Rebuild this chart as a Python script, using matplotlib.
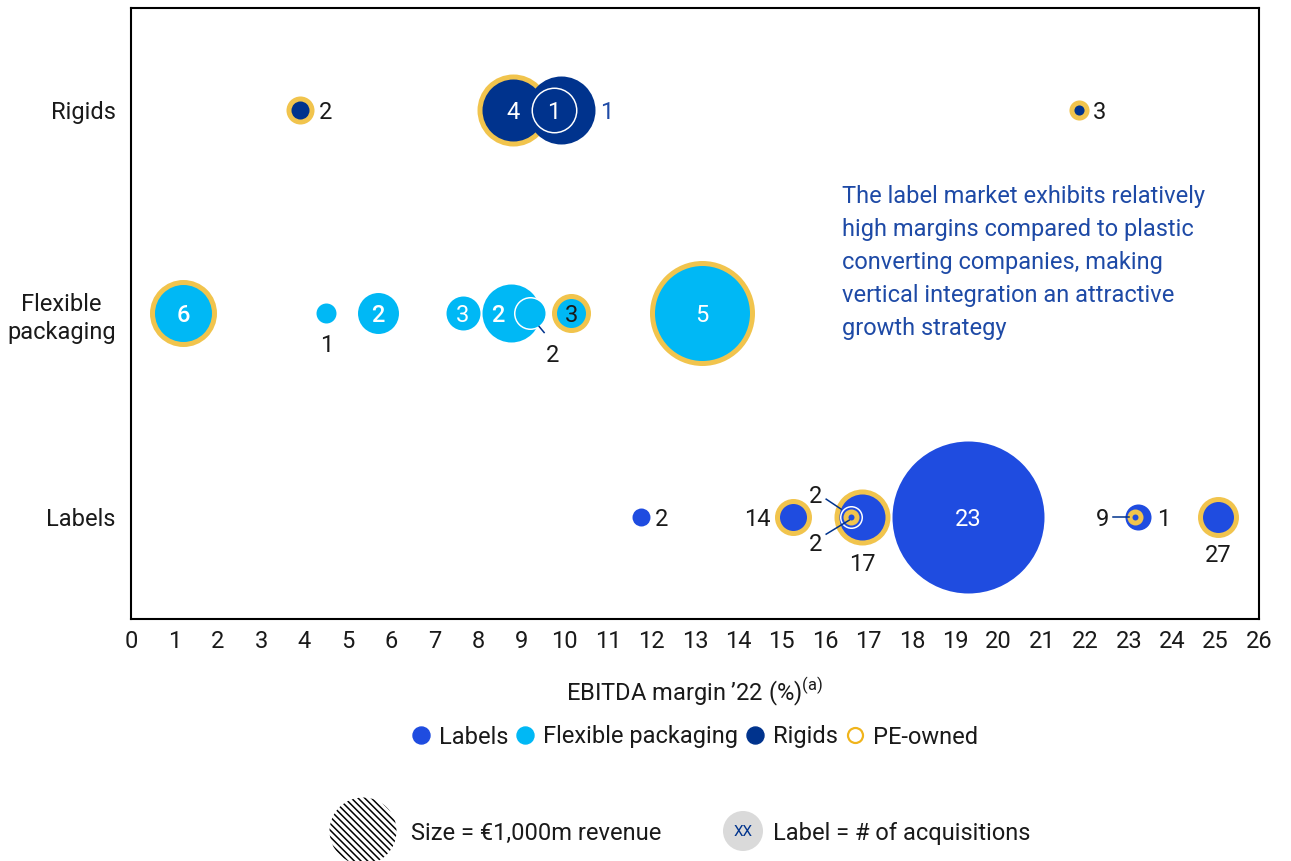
import numpy as np
import matplotlib.pyplot as plt
from matplotlib.lines import Line2D
from matplotlib.patches import Circle
from matplotlib.transforms import IdentityTransform

# ---------------------------------------------------------------------
# STYLE
# ---------------------------------------------------------------------
FS = 17
plt.rcParams.update({
    "font.family": ["Roboto", "DejaVu Sans"],
    "font.size": FS,
    "mathtext.fontset": "custom",
    "mathtext.rm": "Roboto",
    "hatch.linewidth": 1.1,
})

COLOR_LABELS = '#1F4CE0'
COLOR_FLEX = '#00B8F5'
COLOR_RIGIDS = '#00338D'
COLOR_PE = '#F1C44D'
COLOR_NOTE = '#1E4AA6'
TEXT_DARK = '#1a1a1a'

# ---------------------------------------------------------------------
# DATA  (bubbles listed in drawing order)
# ---------------------------------------------------------------------
SEGMENTS = ['Labels', 'Flexible\npackaging', 'Rigids']
SEG_COLORS = [COLOR_LABELS, COLOR_FLEX, COLOR_RIGIDS]

segment = [2, 2, 2, 2, 2,
           1, 1, 1, 1, 1, 1, 1, 1,
           0, 0, 0, 0, 0, 0, 0, 0, 0]
ebitda_margin = [3.9, 8.8, 9.9, 9.75, 21.85,
                 1.2, 4.5, 5.7, 7.65, 8.75, 9.2, 10.15, 13.15,
                 11.75, 15.25, 16.85, 16.6, 16.6, 19.3, 23.2, 23.15, 25.05]
revenue = [175, 1155, 1030, 471, 90,
           1000, 89, 374, 257, 749, 243, 339, 2456,
           72, 305, 699, 118, 57, 5147, 151, 57, 374]
acquisitions = ['2', '4', '1', '1', '3',
                '6', '1', '2', '3', '2', '2', '3', '5',
                '2', '14', '17', '2', '2', '23', '1', '9', '27']
pe_owned = [True, True, False, False, True,
            True, False, False, False, False, False, True, True,
            False, True, True, False, True, False, False, True, True]

# size reference: €1,000m revenue
REF_REVENUE = 1000
REF_RADIUS_PX = 33.5
RING_PX = 5
PX2PT = 72 / 100

# label placement (image px offsets from bubble centre, y down), colour, weight
W, D, N = 'white', TEXT_DARK, COLOR_NOTE
label_style = [
    (25, 0, D, 'normal'), (0, 0, W, 'normal'), (46, 0, N, 'normal'), (0, 0, W, 'normal'), (21, 0, D, 'normal'),
    (0, 0, W, 'medium'), (0, 29, D, 'normal'), (0, 0, W, 'medium'), (0, 0, W, 'normal'),
    (-13, 0, W, 'medium'), (22, 39, D, 'normal'), (0, 0, D, 'normal'), (0, 0, W, 'normal'),
    (21, 0, D, 'normal'), (-35, 0, D, 'normal'), (0, 45, D, 'normal'), (-36, -23, D, 'normal'),
    (-36, 25, D, 'normal'), (0, 0, W, 'normal'), (26, 0, D, 'normal'), (-33, 0, D, 'normal'),
    (0, 36, D, 'normal'),
]
outlined = {3, 10, 16}
leaders = [(10, (9, 13), (14, 19)),
           (16, (-25, -18), (-10, -8)),
           (17, (-25, 17), (-2, 3)),
           (20, (-22, 0), (-6, 0))]


def marker_area(radius_px):
    return (2 * radius_px * PX2PT) ** 2


# ---------------------------------------------------------------------
# PLOT
# ---------------------------------------------------------------------
fig = plt.figure(figsize=(12.91, 8.61), dpi=100)
ax = fig.add_axes([131 / 1291, 1 - 619 / 861, (1259 - 131) / 1291, (619 - 8) / 861])

ax.set_xlim(0, 26)
ax.set_ylim(-0.5, 2.5)

z = 2
for i in range(len(revenue)):
    x, y = ebitda_margin[i], segment[i]
    r = REF_RADIUS_PX * np.sqrt(revenue[i] / REF_REVENUE)
    col = SEG_COLORS[segment[i]]
    if pe_owned[i]:
        ax.scatter(x, y, s=marker_area(r), color=COLOR_PE, linewidths=0, zorder=z)
        ax.scatter(x, y, s=marker_area(r - RING_PX), color=col, linewidths=0, zorder=z + 0.1)
    elif i in outlined:
        ax.scatter(x, y, s=marker_area(r - 0.75), color=col, edgecolors='white',
                   linewidths=1.5 * PX2PT, zorder=z)
    else:
        ax.scatter(x, y, s=marker_area(r), color=col, linewidths=0, zorder=z)
    dx, dy, tcol, weight = label_style[i]
    ax.annotate(acquisitions[i], (x, y), xytext=(dx, -dy), textcoords='offset pixels',
                ha='center', va='center_baseline', color=tcol, fontsize=FS,
                fontweight=weight, zorder=z + 0.2)
    z += 1

# leader lines
for idx, a, b in leaders:
    cx, cy = ax.transData.transform((ebitda_margin[idx], segment[idx]))
    fig.add_artist(Line2D([cx + a[0], cx + b[0]], [cy - a[1], cy - b[1]],
                          transform=IdentityTransform(), color=COLOR_RIGIDS, lw=1.1, zorder=50))

# axes
ax.set_xticks(range(27))
ax.set_yticks(range(3))
ax.set_yticklabels(SEGMENTS, multialignment='center')
ax.get_yticklabels()[1].set_linespacing(1.3)
ax.tick_params(axis='both', length=0, labelcolor=TEXT_DARK, labelsize=FS)
ax.tick_params(axis='x', pad=8)
ax.tick_params(axis='y', pad=11)
for sp in ax.spines.values():
    sp.set_linewidth(1.5)
    sp.set_color('black')
ax.set_xlabel(r"EBITDA margin ’22 (%)$^{\rm (a)}$", fontsize=FS, labelpad=16, color=TEXT_DARK)

# note
ax.text(16.39, 1.25,
        "The label market exhibits relatively\nhigh margins compared to plastic\n"
        "converting companies, making\nvertical integration an attractive\ngrowth strategy",
        color=COLOR_NOTE, fontsize=FS, ha='left', va='center', linespacing=1.55)

# ---------------- LEGEND (segments) ----------------
handles = [Line2D([0], [0], marker='o', ls='', markersize=17 * PX2PT,
                  markerfacecolor=c, markeredgecolor=c, label=l.replace('\n', ' '))
           for c, l in zip(SEG_COLORS, SEGMENTS)]
handles.append(Line2D([0], [0], marker='o', ls='', markersize=15 * PX2PT,
                      markerfacecolor='white', markeredgecolor='#F0B41C',
                      markeredgewidth=2.2 * PX2PT, label='PE-owned'))
fig.legend(handles=handles, loc='center', bbox_to_anchor=(695 / 1291, 1 - 737 / 861),
           ncol=4, frameon=False, fontsize=FS, handlelength=0.8,
           handletextpad=0.36, columnspacing=0.32, labelcolor=TEXT_DARK)

# ---------------- LEGEND (size / label) ----------------
tr = fig.dpi_scale_trans
fig.add_artist(Circle((3.63, 0.30), REF_RADIUS_PX / 100, transform=tr, facecolor='white',
                      edgecolor='black', lw=0, hatch='\\' * 5))
fig.text(4.11, 0.30, "Size = €1,000m revenue", transform=tr, va='center_baseline',
         fontsize=FS, color=TEXT_DARK)
fig.add_artist(Circle((7.43, 0.30), 0.20, transform=tr, facecolor='#DADADA', lw=0))
fig.text(7.43, 0.30, "XX", transform=tr, ha='center', va='center_baseline',
         fontsize=11, color=COLOR_RIGIDS)
fig.text(7.73, 0.30, "Label = # of acquisitions", transform=tr, va='center_baseline',
         fontsize=FS, color=TEXT_DARK)

fig.savefig("out.png", dpi=100)
